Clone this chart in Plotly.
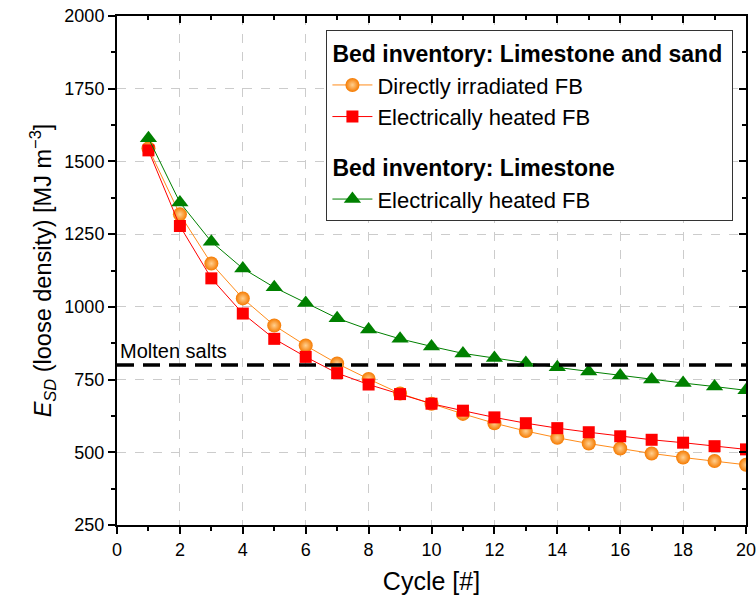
import plotly.graph_objects as go

cycles = list(range(1, 21))
direct_irr = [1545, 1318, 1149, 1029, 936, 867, 805, 752, 702, 667, 632, 600, 573, 550, 530, 513, 496, 482, 470, 457]
elec_sand = [1538, 1278, 1098, 977, 890, 828, 772, 733, 700, 667, 643, 620, 600, 583, 569, 555, 543, 533, 521, 510]
elec_lime = [1580, 1359, 1224, 1132, 1067, 1013, 961, 922, 890, 864, 840, 824, 807, 792, 778, 764, 750, 738, 726, 713]
molten_salts = 800

FONT = "Liberation Sans, Arial, sans-serif"

fig = go.Figure()

fig.add_trace(go.Scatter(
    x=cycles, y=direct_irr, mode="lines+markers", name="Directly irradiated FB",
    legendgroup="g1", legendgrouptitle=dict(text="<b>Bed inventory: Limestone and sand</b>",
                                            font=dict(size=23, family=FONT, color="black")),
    line=dict(color="#FF8C1A", width=1),
    marker=dict(symbol="circle", size=14, color="#F57A00",
                gradient=dict(type="radial", color="#FFD090"),
                line=dict(width=0)),
))
fig.add_trace(go.Scatter(
    x=cycles, y=elec_sand, mode="lines+markers", name="Electrically heated FB",
    legendgroup="g1",
    line=dict(color="#FF0000", width=1),
    marker=dict(symbol="square", size=12, color="#FF0000", line=dict(width=0)),
))
fig.add_trace(go.Scatter(
    x=cycles, y=elec_lime, mode="lines+markers", name="Electrically heated FB",
    legendgroup="g2", legendgrouptitle=dict(text="<b>Bed inventory: Limestone</b>",
                                            font=dict(size=23, family=FONT, color="black")),
    line=dict(color="#008000", width=1),
    marker=dict(symbol="triangle-up", size=15, color="#008000", line=dict(width=0)),
))
# invisible trace for mirrored (top/right) axes
fig.add_trace(go.Scatter(x=[0], y=[molten_salts], xaxis="x2", yaxis="y2", mode="markers",
                         marker=dict(opacity=0), showlegend=False, hoverinfo="skip"))

fig.add_shape(type="line", x0=0, x1=20, y0=molten_salts, y1=molten_salts, xref="x", yref="y",
              line=dict(color="black", width=3.5, dash="17px,9px"))
fig.add_annotation(x=0.03, y=molten_salts, xref="x", yref="y", text="Molten salts",
                   showarrow=False, xanchor="left", yanchor="bottom", yshift=1,
                   font=dict(size=20, family=FONT, color="black"))

axis_common = dict(showline=True, linecolor="black", linewidth=2, zeroline=False,
                   tickcolor="black", tickwidth=1.5, automargin=False)

fig.update_layout(
    width=756, height=602,
    margin=dict(l=117, r=10, t=16, b=77),
    plot_bgcolor="white", paper_bgcolor="white",
    font=dict(family=FONT, size=18, color="black"),
    showlegend=True,
    legend=dict(x=0.98, y=0.972, xanchor="right", yanchor="top",
                bgcolor="white", bordercolor="#333333", borderwidth=1,
                font=dict(size=22, family=FONT, color="black"),
                tracegroupgap=18, itemwidth=40),
    xaxis=dict(range=[0, 20], tickvals=list(range(0, 21, 2)), ticks="outside", ticklen=7,
               minor=dict(dtick=1, ticks="outside", ticklen=4, tickcolor="black", showgrid=False),
               showgrid=True, gridcolor="#CCCCCC", griddash="dash", gridwidth=1,
               ticklabeloverflow="allow",
               title=dict(text="Cycle [#]", font=dict(size=25, family=FONT), standoff=14),
               tickfont=dict(size=18), **axis_common),
    yaxis=dict(range=[250, 2000], tickvals=list(range(250, 2001, 250)), ticks="outside", ticklen=7,
               minor=dict(dtick=125, ticks="outside", ticklen=4, tickcolor="black", showgrid=False),
               showgrid=True, gridcolor="#CCCCCC", griddash="dash", gridwidth=1,
               ticklabeloverflow="allow",
               title=dict(text="<i>E</i><sub><i>SD</i></sub> (loose density) [MJ m<sup>\u22123</sup>]",
                          font=dict(size=23.5, family=FONT), standoff=6),
               tickfont=dict(size=18), **axis_common),
    xaxis2=dict(overlaying="x", side="top", range=[0, 20], tickvals=list(range(0, 21, 2)),
                ticks="inside", ticklen=7, showticklabels=False, showgrid=False,
                minor=dict(dtick=1, ticks="inside", ticklen=4, tickcolor="black"),
                **axis_common),
    yaxis2=dict(overlaying="y", side="right", range=[250, 2000], tickvals=list(range(250, 2001, 250)),
                ticks="inside", ticklen=7, showticklabels=False, showgrid=False,
                minor=dict(dtick=125, ticks="inside", ticklen=4, tickcolor="black"),
                **axis_common),
)

fig.write_html("out.html")
